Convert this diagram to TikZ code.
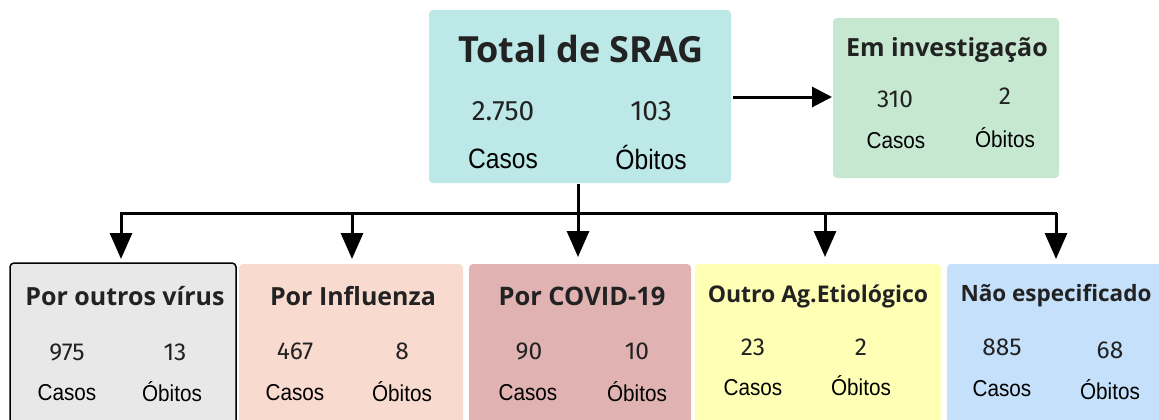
\documentclass[tikz,border=0pt]{standalone}
\usepackage{fontspec}
\usepackage{graphicx}
\setmainfont{Open Sans}
\newfontfamily\ttl{Open Sans}
\newfontfamily\numf{Fira Sans}
\newfontfamily\lblf{Liberation Sans}
\usetikzlibrary{arrows.meta}
\definecolor{ctotal}{HTML}{BDE8E8}
\definecolor{cinv}{HTML}{C6E8D0}
\definecolor{coutros}{HTML}{E8E8E8}
\definecolor{cinf}{HTML}{F8DACE}
\definecolor{ccovid}{HTML}{E0B2B2}
\definecolor{coutro}{HTML}{FFFFB5}
\definecolor{cnao}{HTML}{C5E0FA}
\definecolor{txt}{HTML}{222222}
\newcommand{\narrowtxt}[2]{\scalebox{#1}[1]{#2}}
\newcommand{\fsz}[1]{\fontsize{#1}{#1}\selectfont}
\tikzset{
  box/.style={rounded corners=4pt},
  bigtitle/.style={font=\ttl\bfseries\fsz{36}, text=txt, inner sep=0pt},
  subtitle/.style={font=\ttl\bfseries, text=txt, inner sep=0pt},
  bignum/.style={font=\numf\fsz{28}, text=txt, inner sep=0pt},
  smallnum/.style={font=\numf\fsz{24.5}, text=txt, inner sep=0pt},
  biglbl/.style={font=\lblf\fsz{28}, text=black, inner sep=0pt},
  smalllbl/.style={font=\lblf\fsz{23}, text=black, inner sep=0pt},
  conn/.style={line width=3pt, black},
  arr/.style={conn, -{Triangle[width=22pt,length=26pt]}},
}
\begin{document}
\begin{tikzpicture}[x=1pt,y=-1pt]
\useasboundingbox (0,0) rectangle (1159,420);
\clip (0,0) rectangle (1159,420);
% boxes
\fill[ctotal, box] (429,10) rectangle (731,183);
\fill[cinv, box] (833,18) rectangle (1059,178);
\filldraw[fill=coutros, draw=black, line width=1.5pt, box] (10,263) rectangle (236,440);
\fill[cinf, box] (239,264) rectangle (463,440);
\fill[ccovid, box] (469,264) rectangle (691,440);
\fill[coutro, box] (695,264) rectangle (941,440);
\fill[cnao, box] (947,264) rectangle (1170,440);
% anchors
\coordinate (tbot) at (578,184);
\coordinate (tright) at (733,97);
\coordinate (invl) at (832,97);
\coordinate (hl) at (120,213);
\coordinate (hr) at (1057,213);
\coordinate (a1) at (121,259);
\coordinate (a2) at (352,259);
\coordinate (a3) at (578,257);
\coordinate (a4) at (825,257);
\coordinate (a5) at (1056,259);
% texts total
\node[bigtitle] (ttitle) at (581,49) {Total de SRAG};
\node[bignum] (tn1) at (503,111) {2.750};
\node[bignum] (tn2) at (651,111) {103};
\node[biglbl] (tl1) at (503,159) {\narrowtxt{0.88}{Casos}};
\node[biglbl] (tl2) at (651,157) {\narrowtxt{0.88}{Óbitos}};
% investigacao
\node[subtitle, font=\ttl\bfseries\fsz{25}] (ititle) at (947,50) {Em investigação};
\node[smallnum] (in1) at (895,99) {310};
\node[smallnum] (in2) at (1005,96) {2};
\node[smalllbl] (il1) at (896,141) {\narrowtxt{0.9}{Casos}};
\node[smalllbl] (il2) at (1005,138) {\narrowtxt{0.9}{Óbitos}};
% bottom
\node[subtitle, font=\ttl\bfseries\fsz{25}] (b1t) at (125,296) {Por outros vírus};
\node[smallnum] (b1n1) at (67,352) {975};
\node[smallnum] (b1n2) at (175,352) {13};
\node[smalllbl] (b1l1) at (67,393) {\narrowtxt{0.9}{Casos}};
\node[smalllbl] (b1l2) at (172,392) {\narrowtxt{0.9}{Óbitos}};

\node[subtitle, font=\ttl\bfseries\fsz{25}] (b2t) at (353,296) {Por Influenza};
\node[smallnum] (b2n1) at (295,351) {467};
\node[smallnum] (b2n2) at (402,351) {8};
\node[smalllbl] (b2l1) at (295,393) {\narrowtxt{0.9}{Casos}};
\node[smalllbl] (b2l2) at (402,392) {\narrowtxt{0.9}{Óbitos}};

\node[subtitle, font=\ttl\bfseries\fsz{25.5}] (b3t) at (582,296) {Por COVID-19};
\node[smallnum] (b3n1) at (529,351) {90};
\node[smallnum] (b3n2) at (637,351) {10};
\node[smalllbl] (b3l1) at (528,393) {\narrowtxt{0.9}{Casos}};
\node[smalllbl] (b3l2) at (637,392) {\narrowtxt{0.9}{Óbitos}};

\node[subtitle, font=\ttl\bfseries\fsz{23}] (b4t) at (818,296) {Outro Ag.Etiológico};
\node[smallnum] (b4n1) at (753,347) {23};
\node[smallnum] (b4n2) at (861,347) {2};
\node[smalllbl] (b4l1) at (753,388) {\narrowtxt{0.9}{Casos}};
\node[smalllbl] (b4l2) at (861,386) {\narrowtxt{0.9}{Óbitos}};

\node[subtitle, font=\ttl\bfseries\fsz{22.5}] (b5t) at (1056,296) {Não especificado};
\node[smallnum] (b5n1) at (1002,347) {885};
\node[smallnum] (b5n2) at (1110,350) {68};
\node[smalllbl] (b5l1) at (1002,389) {\narrowtxt{0.9}{Casos}};
\node[smalllbl] (b5l2) at (1110,390) {\narrowtxt{0.9}{Óbitos}};
% connectors
\draw[arr, -{Triangle[width=20pt,length=20pt]}] (tright) -- (invl);
\draw[conn] (hl) -- (hr);
\draw[arr] (tbot) -- (a3);
\draw[arr] (121,213) -- (a1);
\draw[arr] (352,213) -- (a2);
\draw[arr] (825,213) -- (a4);
\draw[arr] (1056,213) -- (a5);
\end{tikzpicture}
\end{document}
